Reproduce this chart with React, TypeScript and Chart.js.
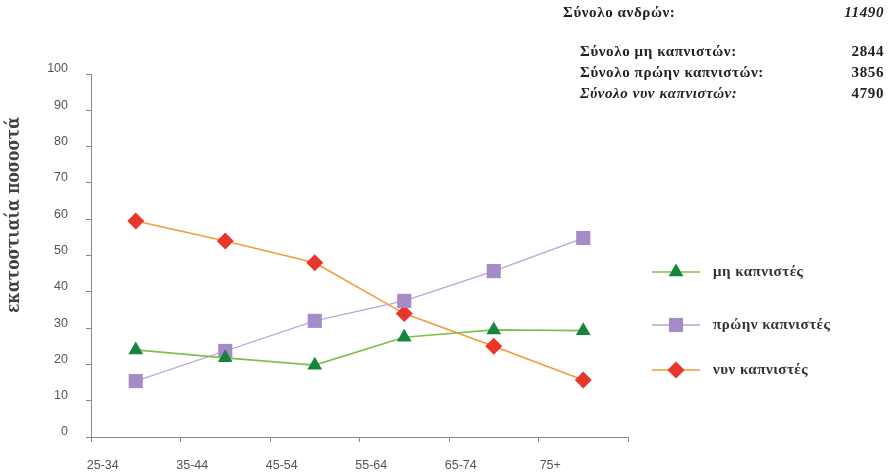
import { useEffect, useRef } from "react";
import { Chart, registerables } from "chart.js";

Chart.register(...registerables);

const ageGroups = ["25-34", "35-44", "45-54", "55-64", "65-74", "75+"];
const neverSmokers = [24, 21.8, 19.8, 27.5, 29.5, 29.3];
const formerSmokers = [15.4, 23.7, 32, 37.5, 45.7, 54.8];
const currentSmokers = [59.5, 54, 48, 34, 25, 15.7];
const seriesNames = ["μη καπνιστές", "πρώην καπνιστές", "νυν καπνιστές"];
const yAxisTitle = "εκατοστιαία ποσοστά";
const yMin = 0;
const yMax = 100;
const yStep = 10;
const summaryLabels = [
  "Σύνολο ανδρών:",
  "Σύνολο μη καπνιστών:",
  "Σύνολο πρώην καπνιστών:",
  "Σύνολο νυν καπνιστών:",
];
const summaryValues = ["11490", "2844", "3856", "4790"];

const lineColors = ["#7fbf4d", "#b9a3d9", "#f59a3a"];
const markerColors = ["#14853a", "#a58cc9", "#e8362a"];
const markerStyles = ["triangle", "rect", "rectRot"];
const markerRadii = [8.5, 10, 8.5];

function drawMarker(ctx: CanvasRenderingContext2D, style: string, x: number, y: number, r: number, color: string) {
  ctx.save();
  ctx.fillStyle = color;
  ctx.beginPath();
  if (style === "triangle") {
    ctx.moveTo(x, y - r);
    ctx.lineTo(x + r * Math.sqrt(3) / 2, y + r / 2);
    ctx.lineTo(x - r * Math.sqrt(3) / 2, y + r / 2);
  } else if (style === "rect") {
    const s = r * Math.SQRT1_2;
    ctx.rect(x - s, y - s, 2 * s, 2 * s);
  } else {
    ctx.moveTo(x, y - r);
    ctx.lineTo(x + r, y);
    ctx.lineTo(x, y + r);
    ctx.lineTo(x - r, y);
  }
  ctx.closePath();
  ctx.fill();
  ctx.restore();
}

const overlayPlugin = {
  id: "overlay",
  afterDraw(chart: any) {
    const ctx: CanvasRenderingContext2D = chart.ctx;
    ctx.save();
    // y axis title
    ctx.save();
    ctx.font = "bold 18px 'DejaVu Serif'";
    const w = ctx.measureText(yAxisTitle).width;
    const targetLen = 196;
    ctx.translate(19, 215);
    ctx.rotate(-Math.PI / 2);
    ctx.scale(targetLen / w, 1);
    ctx.fillStyle = "#404040";
    ctx.textAlign = "center";
    ctx.textBaseline = "alphabetic";
    ctx.fillText(yAxisTitle, 0, 0);
    ctx.restore();
    // legend
    const legendY = [272, 325, 370];
    for (let i = 0; i < seriesNames.length; i++) {
      const y = legendY[i];
      ctx.strokeStyle = lineColors[i];
      ctx.lineWidth = 1.5;
      ctx.beginPath();
      ctx.moveTo(652, y);
      ctx.lineTo(700, y);
      ctx.stroke();
      drawMarker(ctx, markerStyles[i], 676, y, markerRadii[i], markerColors[i]);
      ctx.fillStyle = "#333";
      ctx.font = "bold 15px 'Liberation Serif'";
      ctx.textAlign = "left";
      ctx.textBaseline = "middle";
      (ctx as any).letterSpacing = "0.5px";
      ctx.fillText(seriesNames[i], 713, y);
    }
    // summary
    const rowsY = [13, 52, 73, 94];
    const rowsX = [563, 580, 580, 580];
    for (let i = 0; i < summaryLabels.length; i++) {
      const italicLabel = i === 3;
      const italicValue = i === 0;
      ctx.fillStyle = "#222";
      ctx.textBaseline = "middle";
      (ctx as any).letterSpacing = "0.6px";
      ctx.textAlign = "left";
      ctx.font = `${italicLabel ? "italic " : ""}bold 15px 'Liberation Serif'`;
      ctx.fillText(summaryLabels[i], rowsX[i], rowsY[i]);
      ctx.textAlign = "right";
      ctx.font = `${italicValue ? "italic " : ""}bold 15px 'Liberation Serif'`;
      ctx.fillText(summaryValues[i], 884, rowsY[i]);
    }
    (ctx as any).letterSpacing = "0px";
    ctx.restore();
  },
};

export default function App() {
  const ref = useRef<HTMLCanvasElement | null>(null);

  useEffect(() => {
    if (!ref.current) return;
    const seriesData = [neverSmokers, formerSmokers, currentSmokers];
    const chart = new Chart(ref.current, {
      type: "line",
      data: {
        labels: ageGroups,
        datasets: seriesData.map((d, i) => ({
          label: seriesNames[i],
          data: d,
          borderColor: lineColors[i],
          borderWidth: i === 1 ? 1.2 : 1.6,
          pointStyle: markerStyles[i] as any,
          pointRadius: markerRadii[i],
          pointBackgroundColor: markerColors[i],
          pointBorderColor: markerColors[i],
          pointBorderWidth: 0,
          tension: 0,
          fill: false,
        })),
      },
      options: {
        animation: false,
        responsive: false,
        maintainAspectRatio: false,
        layout: { padding: { top: 74, right: 260, left: 0, bottom: 0 } },
        plugins: { legend: { display: false }, tooltip: { enabled: false } },
        scales: {
          x: {
            offset: true,
            grid: { offset: true, drawOnChartArea: false, drawTicks: true, tickLength: 5, color: "#888" },
            border: { color: "#888", width: 1 },
            ticks: {
              color: "#555",
              font: { family: "'Liberation Sans'", size: 12.5 },
              padding: 16,
              labelOffset: -33,
              maxRotation: 0,
            },
            afterFit(scale: any) {
              scale.height = 39;
            },
          },
          y: {
            min: yMin,
            max: yMax,
            ticks: {
              stepSize: yStep,
              color: "#555",
              font: { family: "'Liberation Sans'", size: 12.5 },
              padding: 18,
              labelOffset: -5,
            },
            grid: { drawOnChartArea: false, drawTicks: true, tickLength: 5, color: "#888" },
            border: { color: "#888", width: 1 },
            afterFit(scale: any) {
              scale.width = 91;
            },
          },
        },
      },
      plugins: [overlayPlugin],
    });
    return () => chart.destroy();
  }, []);

  return (
    <div style={{ position: "fixed", left: 0, top: 0, width: 888, height: 476, background: "#fff" }}>
      <canvas ref={ref} width={888} height={476} style={{ display: "block" }} />
    </div>
  );
}
